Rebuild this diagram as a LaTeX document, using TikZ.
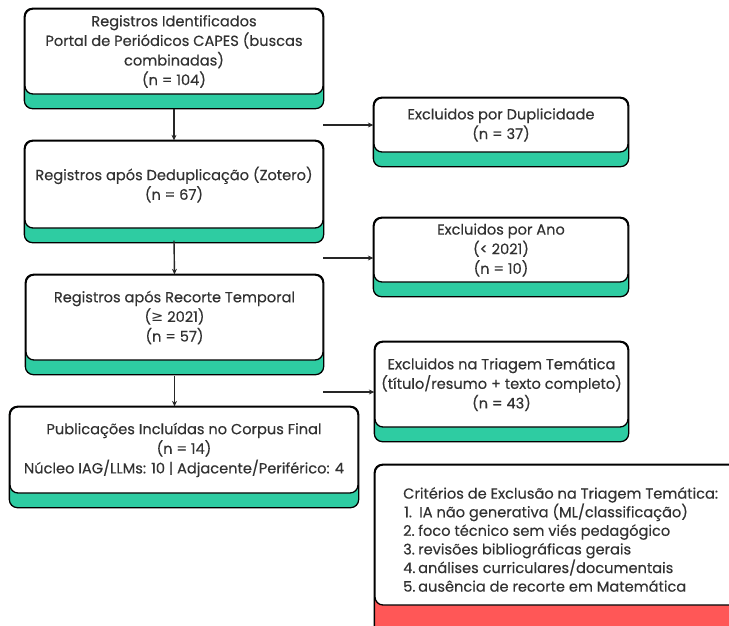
\documentclass[tikz,border=0pt]{standalone}
\usepackage{fontspec}
\setmainfont{Poppins}[FakeBold=0.3]
\newfontfamily\symfont{DejaVu Sans}
\usetikzlibrary{backgrounds,arrows.meta}
\definecolor{tealband}{RGB}{46,204,162}
\definecolor{redband}{RGB}{255,87,87}
\definecolor{inkgray}{RGB}{50,50,50}
\tikzset{
  card/.style={draw=black, line width=1.3pt, fill=white, rounded corners=8pt,
    align=center, font=\fontsize{14.6}{19.6}\selectfont, text=inkgray, inner sep=0pt},
  band/.style={draw=black, line width=1.3pt, rounded corners=8pt},
  flow/.style={draw=black!85, line width=1.4pt, -{Stealth[length=5.5pt,width=5pt]}},
  crittext/.style={align=left, font=\fontsize{14.6}{18.6}\selectfont, text=inkgray, inner sep=0pt}
}
\begin{document}
\begin{tikzpicture}[x=1pt,y=-1pt]
\useasboundingbox (0,0) rectangle (729,625);
% main column
\node[card, minimum width=298pt, minimum height=85pt] (b1) at (174,51.5)
  {Registros Identificados\\Portal de Periódicos CAPES (buscas\\combinadas)\\(n = 104)};
\node[card, minimum width=298pt, minimum height=87pt] (b2) at (174,184.5)
  {Registros após Deduplicação (Zotero)\\(n = 67)};
\node[card, minimum width=297pt, minimum height=85pt] (b3) at (174.5,317.5)
  {Registros após Recorte Temporal\\({\symfont ≥} 2021)\\(n = 57)};
\node[card, minimum width=348pt, minimum height=86pt] (b4) at (184,450)
  {Publicações Incluídas no Corpus Final\\(n = 14)\\Núcleo IAG/LLMs: 10 | Adjacente/Periférico: 4};
% exclusion column
\node[card, minimum width=254pt, minimum height=54pt] (d1) at (501,125)
  {Excluidos por Duplicidade\\(n = 37)};
\node[card, minimum width=254pt, minimum height=64pt] (d2) at (501,250)
  {Excluidos por Ano\\(< 2021)\\(n = 10)};
\node[card, minimum width=253pt, minimum height=85pt] (d3) at (501.5,384.5)
  {Excluidos na Triagem Temática\\(título/resumo + texto completo)\\(n = 43)};
\node[card, minimum width=365pt, minimum height=140pt] (cr) at (557.5,535) {};
\node[crittext, anchor=west] (ct) at (403,539.5)
  {Critérios de Exclusão na Triagem Temática:\\
   \hspace*{1pt}\makebox[15pt][l]{1.}IA não generativa (ML/classificação)\\
   \makebox[15pt][l]{2.}foco técnico sem viés pedagógico\\
   \makebox[15pt][l]{3.}revisões bibliográficas gerais\\
   \makebox[15pt][l]{4.}análises curriculares/documentais\\
   \makebox[15pt][l]{5.}ausência de recorte em Matemática};
% bands behind
\begin{scope}[on background layer]
  \fill[white] (0,0) rectangle (729,625);
  \foreach \n in {b1,b2,b3,b4,d1,d2,d3}{
    \draw[band, fill=tealband] (\n.north west) rectangle ([yshift=-14pt]\n.south east);
  }
  \draw[band, fill=redband] (cr.north west) rectangle ([yshift=-36pt]cr.south east);
\end{scope}
% connectors
\draw[flow] ([yshift=-14pt]b1.south) -- (b2.north);
\draw[flow] ([yshift=-12pt]b2.south) -- (b3.north);
\draw[flow] ([yshift=-15pt]b3.south) -- (b3.south |- b4.north);
\coordinate (h1) at (323,125);
\coordinate (h2) at (323,258);
\coordinate (h3) at (323,392);
\draw[flow] (h1) -- (d1.west);
\draw[flow] (h2) -- (h2 -| d2.west);
\draw[flow] (h3) -- (h3 -| d3.west);
\end{tikzpicture}
\end{document}
